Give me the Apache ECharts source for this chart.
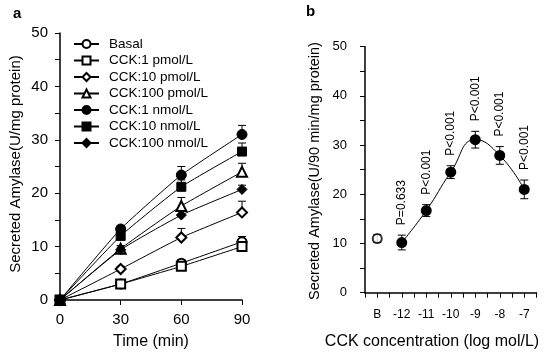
<!DOCTYPE html>
<html><head><meta charset="utf-8">
<script src="https://cdn.jsdelivr.net/npm/echarts@6/dist/echarts.min.js"></script>
<style>html,body{margin:0;padding:0;background:#fff}#c{width:550px;height:360px}</style>
</head><body><div id="c"></div>
<script>
// ---- Panel a data ----
const timePoints = [0, 30, 60, 90];
const seriesNames = ['Basal','CCK:1 pmol/L','CCK:10 pmol/L','CCK:100 pmol/L','CCK:1 nmol/L','CCK:10 nmol/L','CCK:100 nmol/L'];
const basal   = [0, 3.0, 6.9, 10.9];
const cck1p   = [0, 3.0, 6.3, 10.0];
const cck10p  = [0, 5.8, 11.7, 16.4];
const cck100p = [0, 9.6, 17.6, 24.0];
const cck1n   = [0, 13.3, 23.4, 31.0];
const cck10n  = [0, 12.0, 21.2, 27.8];
const cck100n = [0, 9.4, 15.9, 20.7];
const errBasal   = [0, 0.4, 0.6, 1.0];
const errCck1p   = [0, 0.3, 0.5, 0.8];
const errCck10p  = [0, 0.5, 1.7, 2.1];
const errCck100p = [0, 0.6, 1.6, 1.6];
const errCck1n   = [0, 0.6, 1.6, 1.7];
const errCck10n  = [0, 0.5, 1.3, 1.6];
const errCck100n = [0, 0.5, 0.9, 0.8];
const leftYTicks = [0, 10, 20, 30, 40, 50];

// ---- Panel b data ----
const logConc   = [-12, -11, -10, -9, -8, -7];
const doseVals  = [10.2, 16.7, 24.5, 31.1, 27.9, 21.0];
const doseErr   = [1.5, 1.2, 1.3, 1.7, 1.8, 1.9];
const pLabels   = ['P=0.633', 'P<0.001', 'P<0.001', 'P<0.001', 'P<0.001', 'P<0.001'];
const basalPos  = -13;
const basalVal  = 11.0;
const basalErr  = 0.8;
const rightXTickLabels = {'-13':'B','-12':'-12','-11':'-11','-10':'-10','-9':'-9','-8':'-8','-7':'-7'};

const FONT = 'Liberation Sans, Arial, sans-serif';
const K = '#000';

const valsA = [basal, cck1p, cck10p, cck100p, cck1n, cck10n, cck100n];
const errsA = [errBasal, errCck1p, errCck10p, errCck100p, errCck1n, errCck10n, errCck100n];
const symbolsA = ['emptyCircle','emptyRect','emptyDiamond','emptyTriangle','circle','rect','diamond'];
const sizesA = [9, 9, 10, 10, 10, 9, 10];

const series = [];
valsA.forEach((v, i) => {
  series.push({
    type: 'custom', xAxisIndex: 0, yAxisIndex: 0, z: 1, silent: true,
    data: timePoints.map((t, j) => [t, v[j], errsA[i][j]]),
    renderItem: function (params, api) {
      const x = api.value(0), y = api.value(1), e = api.value(2);
      if (!e) return null;
      const p0 = api.coord([x, y]);
      const p1 = api.coord([x, y + e]);
      return { type: 'group', children: [
        { type: 'line', shape: { x1: p0[0], y1: p0[1], x2: p1[0], y2: p1[1] }, style: { stroke: K, lineWidth: 1 } },
        { type: 'line', shape: { x1: p1[0] - 4, y1: p1[1], x2: p1[0] + 4, y2: p1[1] }, style: { stroke: K, lineWidth: 1 } }
      ]};
    }
  });
});
valsA.forEach((v, i) => {
  series.push({
    name: seriesNames[i], type: 'line', xAxisIndex: 0, yAxisIndex: 0, z: 3,
    data: timePoints.map((t, j) => [t, v[j]]),
    symbol: symbolsA[i], symbolSize: sizesA[i], smooth: 0.15, clip: false,
    lineStyle: { color: K, width: 1 }, itemStyle: { color: K, borderColor: K, borderWidth: 1 },
    emphasis: { disabled: true }
  });
});

const errB = logConc.map((x, j) => [x, doseVals[j], doseErr[j]]).concat([[basalPos, basalVal, basalErr]]);
series.push({
  type: 'custom', xAxisIndex: 1, yAxisIndex: 1, z: 1, silent: true,
  data: errB,
  renderItem: function (params, api) {
    const x = api.value(0), y = api.value(1), e = api.value(2);
    const lo = api.coord([x, y - e]);
    const hi = api.coord([x, y + e]);
    return { type: 'group', children: [
      { type: 'line', shape: { x1: lo[0], y1: lo[1], x2: hi[0], y2: hi[1] }, style: { stroke: K, lineWidth: 1 } },
      { type: 'line', shape: { x1: hi[0] - 4, y1: hi[1], x2: hi[0] + 4, y2: hi[1] }, style: { stroke: K, lineWidth: 1 } },
      { type: 'line', shape: { x1: lo[0] - 4, y1: lo[1], x2: lo[0] + 4, y2: lo[1] }, style: { stroke: K, lineWidth: 1 } }
    ]};
  }
});
series.push({
  type: 'line', xAxisIndex: 1, yAxisIndex: 1, z: 3,
  data: logConc.map((x, j) => [x, doseVals[j]]),
  symbol: 'circle', symbolSize: 11, smooth: 0.5,
  lineStyle: { color: K, width: 1 }, itemStyle: { color: K },
  emphasis: { disabled: true }
});
series.push({
  type: 'scatter', xAxisIndex: 1, yAxisIndex: 1, z: 3,
  data: [[basalPos, basalVal]],
  symbol: 'emptyCircle', symbolSize: 9,
  itemStyle: { color: K, borderColor: K, borderWidth: 1 },
  emphasis: { disabled: true }
});
series.push({
  type: 'custom', xAxisIndex: 1, yAxisIndex: 1, z: 4, silent: true,
  data: logConc.map((x, j) => [x, doseVals[j] + doseErr[j], j]),
  renderItem: function (params, api) {
    const p = api.coord([api.value(0), api.value(1)]);
    return { type: 'text', x: p[0], y: p[1] - 10, rotation: Math.PI / 2,
      style: { text: pLabels[api.value(2)], font: '12px ' + FONT, fill: K, align: 'left', verticalAlign: 'middle' } };
  }
});

const chart = echarts.init(document.getElementById('c'), null, { renderer: 'canvas' });
chart.setOption({
  animation: false,
  backgroundColor: '#fff',
  textStyle: { fontFamily: FONT },
  grid: [
    { left: 60, right: 308, top: 33, bottom: 60 },
    { left: 365, right: 13.5, top: 46.7, bottom: 67.3 }
  ],
  legend: {
    orient: 'vertical', left: 73, top: 37, padding: 0, itemWidth: 25, itemHeight: 10, itemGap: 2.5,
    data: seriesNames, selectedMode: false,
    textStyle: { fontFamily: FONT, fontSize: 13.5, color: K, padding: [0, 0, 0, 5] }
  },
  xAxis: [
    { type: 'value', gridIndex: 0, min: 0, max: 90, interval: 30,
      axisLine: { show: true, onZero: false, lineStyle: { color: K, width: 1.5 } },
      axisTick: { show: true, length: 5, lineStyle: { color: K } },
      axisLabel: { color: K, fontSize: 15, margin: 12, fontFamily: FONT },
      splitLine: { show: false } },
    { type: 'value', gridIndex: 1, min: -13.5, max: -6.5, interval: 0.5,
      axisLine: { show: true, onZero: false, lineStyle: { color: K, width: 1.5 } },
      axisTick: { show: true, length: 5, lineStyle: { color: K } },
      axisLabel: { color: K, fontSize: 12, margin: 16, fontFamily: FONT, showMinLabel: true, showMaxLabel: true,
        formatter: v => (rightXTickLabels[String(v)] !== undefined ? rightXTickLabels[String(v)] : '') },
      splitLine: { show: false } }
  ],
  yAxis: [
    { type: 'value', gridIndex: 0, min: 0, max: 50, interval: 5,
      axisLine: { show: true, lineStyle: { color: K, width: 1.5 } },
      axisTick: { show: true, length: 5, lineStyle: { color: K } },
      axisLabel: { color: K, fontSize: 15, margin: 12, fontFamily: FONT,
        formatter: v => (leftYTicks.indexOf(v) >= 0 ? String(v) : '') },
      splitLine: { show: false } },
    { type: 'value', gridIndex: 1, min: 0, max: 50, interval: 5,
      axisLine: { show: true, lineStyle: { color: K, width: 1.5 } },
      axisTick: { show: true, length: 5, lineStyle: { color: K } },
      axisLabel: { color: K, fontSize: 13, margin: 18, fontFamily: FONT,
        formatter: v => (v % 10 === 0 ? String(v) : '') },
      splitLine: { show: false } }
  ],
  graphic: [
    { type: 'text', left: 13, top: 6, style: { text: 'a', font: 'bold 15px ' + FONT, fill: K } },
    { type: 'text', left: 306, top: 4, style: { text: 'b', font: 'bold 15px ' + FONT, fill: K } },
    { type: 'text', x: 15.5, y: 164, rotation: Math.PI / 2,
      style: { text: 'Secreted Amylase(U/mg protein)', font: '15px ' + FONT, fill: K, align: 'center', verticalAlign: 'middle' } },
    { type: 'text', x: 314.5, y: 171, rotation: Math.PI / 2,
      style: { text: 'Secreted Amylase(U/90 min/mg protein)', font: '14.5px ' + FONT, fill: K, align: 'center', verticalAlign: 'middle' } },
    { type: 'text', x: 151, y: 342, style: { text: 'Time (min)', font: '16px ' + FONT, fill: K, align: 'center', verticalAlign: 'middle' } },
    { type: 'text', x: 432, y: 342, style: { text: 'CCK concentration (log mol/L)', font: '16px ' + FONT, fill: K, align: 'center', verticalAlign: 'middle' } }
  ],
  series: series
});
</script></body></html>
